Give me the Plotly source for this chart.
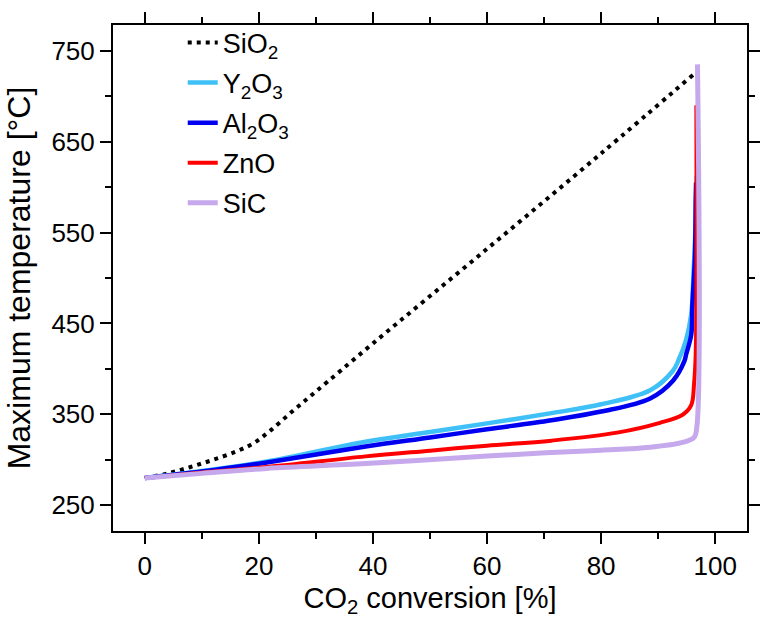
import plotly.graph_objects as go

# ---- data ----
sio2_x = [0, 4, 8, 12, 16, 19, 22, 26, 30, 40, 60, 80, 96.6]
sio2_y = [280, 285, 292, 300, 309, 318, 332, 354, 375, 428, 532, 637, 726]

y2o3_x = [0, 10, 21.4, 38.7, 50, 60, 71.3, 80, 88.6, 92.6, 93.6, 94.9, 95.8, 96.2, 96.5, 96.7, 96.75]
y2o3_y = [280, 287.5, 298, 319.8, 330.5, 340, 351.3, 361, 376.4, 397.9, 410, 432, 460, 505, 548, 600, 612]

al2o3_x = [0, 10, 21.4, 38.7, 50, 60, 71.3, 80, 88.6, 92.6, 94.6, 94.9, 95.8, 96.0, 96.45, 96.6, 96.65]
al2o3_y = [280, 287, 297, 314.5, 324.5, 333.5, 343.5, 353, 367.5, 387, 408.6, 415.8, 437.5, 469.5, 523, 590, 605]

zno_x = [0, 10, 21.4, 38.7, 50, 60, 71.3, 82.8, 90.3, 94.3, 95.8, 96.3, 96.6, 96.7]
zno_y = [280, 286, 292, 303.7, 310, 315.5, 321, 329.8, 340.6, 349.5, 360, 383.6, 419, 690]

sic_x = [0, 10, 21.4, 38.7, 60, 71.3, 80, 88.6, 94.3, 96.3, 96.8, 96.9]
sic_y = [280, 285, 290.4, 295.8, 304, 308, 310.5, 313.7, 319, 324.5, 337, 735]

x_ticks = [0, 20, 40, 60, 80, 100]
y_ticks = [250, 350, 450, 550, 650, 750]

FONT = "Liberation Sans, Arial, sans-serif"

series = [
    ("SiO<sub>2</sub>", sio2_x, sio2_y, dict(color="black", width=4, dash="4px,5px")),
    ("Y<sub>2</sub>O<sub>3</sub>", y2o3_x, y2o3_y, dict(color="#3fc0f7", width=4.5)),
    ("Al<sub>2</sub>O<sub>3</sub>", al2o3_x, al2o3_y, dict(color="#0000f0", width=4.5)),
    ("ZnO", zno_x, zno_y, dict(color="#ff0000", width=4)),
    ("SiC", sic_x, sic_y, dict(color="#c6a8ec", width=5)),
]

fig = go.Figure()
for i, (name, xs, ys, ln) in enumerate(series):
    fig.add_trace(go.Scatter(x=xs, y=ys, mode="lines", name=name, line=ln,
                             line_shape="spline", legendgroup=f"g{i}"))

axis_common = dict(
    showline=True, linecolor="black", linewidth=2, mirror="allticks",
    ticks="outside", ticklen=11, tickwidth=2, tickcolor="black",
    showgrid=False, zeroline=False,
    tickfont=dict(family=FONT, size=26, color="black"),
)

fig.update_xaxes(
    range=[-5.58, 105.58], tickvals=x_ticks,
    minor=dict(ticks="outside", ticklen=6, tickwidth=2, tickcolor="black", dtick=10, tick0=0),
    title=dict(text="CO<sub>2</sub> conversion [%]", font=dict(family=FONT, size=29, color="black"), standoff=7),
    **axis_common,
)
fig.update_yaxes(
    range=[221.6, 778.3], tickvals=y_ticks,
    minor=dict(ticks="outside", ticklen=6, tickwidth=2, tickcolor="black", dtick=50, tick0=250),
    title=dict(text="Maximum temperature [°C]", font=dict(family=FONT, size=32, color="black"), standoff=11),
    **axis_common,
)

fig.update_layout(
    width=772, height=624,
    margin=dict(l=113, r=13, t=13, b=93),
    paper_bgcolor="white", plot_bgcolor="white",
    font=dict(family=FONT, color="black"),
    showlegend=True,
    legend=dict(x=0.11, y=1.013, xanchor="left", yanchor="top",
                bgcolor="rgba(0,0,0,0)", borderwidth=0,
                font=dict(family=FONT, size=27, color="black"),
                tracegroupgap=2, itemwidth=30),
)

fig.write_html("out.html")
